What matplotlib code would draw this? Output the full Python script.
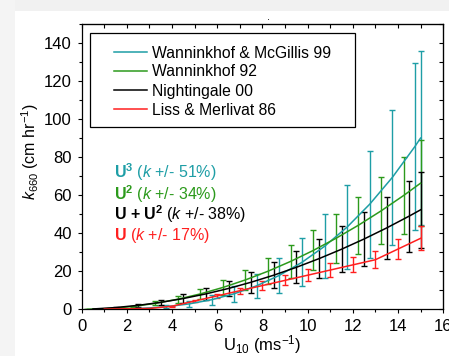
import numpy as np
import matplotlib
matplotlib.use('Agg')
import matplotlib.pyplot as plt
from matplotlib.patches import Rectangle

plt.rcParams['font.family'] = ['Liberation Sans', 'DejaVu Sans']
plt.rcParams['mathtext.fontset'] = 'custom'
plt.rcParams['mathtext.rm'] = 'Liberation Sans'
plt.rcParams['mathtext.it'] = 'Liberation Sans:italic'
plt.rcParams['mathtext.bf'] = 'Liberation Sans:bold'

# gas transfer velocity k660 (cm/hr) vs wind speed U10 (m/s)
wm99_u = [0.75, 1.75, 2.75, 3.75, 4.75, 5.75, 6.75, 7.75, 8.75, 9.75, 10.75, 11.75, 12.75, 13.75, 14.75, 15]
wm99_k = [0.01, 0.14, 0.56, 1.41, 2.86, 5.08, 8.21, 12.43, 17.89, 24.75, 33.17, 43.31, 55.34, 69.41, 85.68, 90.11]

w92_u = [0.25, 1.25, 2.25, 3.25, 4.25, 5.25, 6.25, 7.25, 8.25, 9.25, 10.25, 11.25, 12.25, 13.25, 14.25, 15]
w92_k = [0.02, 0.46, 1.49, 3.12, 5.33, 8.13, 11.52, 15.51, 20.08, 25.24, 30.99, 37.34, 44.27, 51.79, 59.90, 66.38]

n00_u = [0.5, 1.5, 2.5, 3.5, 4.5, 5.5, 6.5, 7.5, 8.5, 9.5, 10.5, 11.5, 12.5, 13.5, 14.5, 15]
n00_k = [0.21, 0.95, 2.12, 3.70, 5.71, 8.15, 11.00, 14.28, 17.98, 22.11, 26.66, 31.63, 37.02, 42.84, 49.08, 52.36]

lm86_u = [1, 2, 3, 4, 5, 6, 7, 8, 9, 10, 11, 12, 13, 14, 15]
lm86_k = [0.16, 0.32, 0.48, 1.67, 4.39, 7.10, 9.82, 12.53, 15.25, 17.96, 20.68, 23.40, 26.11, 31.73, 37.36]

series = [
    ('Wanninkhof & McGillis 99', wm99_u, wm99_k, 0.51, '#1e9ea6'),
    ('Wanninkhof 92', w92_u, w92_k, 0.34, '#2c9a1c'),
    ('Nightingale 00', n00_u, n00_k, 0.38, 'black'),
    ('Liss & Merlivat 86', lm86_u, lm86_k, 0.17, '#ff1f1f'),
]

W, H = 449, 356
fig = plt.figure(figsize=(W / 100, H / 100), dpi=100)
fig.add_artist(Rectangle((0, 1 - 11 / H), 1, 11 / H, transform=fig.transFigure,
                         facecolor='#f1f1f1', edgecolor='none', zorder=-5))
fig.add_artist(Rectangle((0, 0), 15 / W, 1, transform=fig.transFigure,
                         facecolor='#f4f4f4', edgecolor='none', zorder=-5))

ax = fig.add_axes([0.182, 0.131, 0.805, 0.801])

for name, u, k, frac, col in series:
    u = np.array(u)
    k = np.array(k)
    ax.errorbar(u, k, yerr=frac * k, color=col, lw=1.1, elinewidth=1.0,
                capsize=2.5, capthick=1.0)

ax.set_xlim(0, 16)
ax.set_ylim(0, 150)
ax.set_xticks(np.arange(0, 17, 2))
ax.set_xticks(np.arange(0, 17, 1), minor=True)
ax.set_yticks(np.arange(0, 141, 20))
ax.set_yticks(np.arange(0, 151, 10), minor=True)
ax.tick_params(which='major', direction='out', length=3, width=0.8, labelsize=12, pad=4)
ax.tick_params(which='minor', direction='out', length=2, width=0.8)
for sp in ax.spines.values():
    sp.set_linewidth(0.9)

# inward ticks on top and right
top = ax.secondary_xaxis('top')
top.set_xticks(np.arange(0, 17, 1))
top.tick_params(direction='in', length=3, width=0.8, labelsize=0)
top.set_xticklabels([])
right = ax.secondary_yaxis('right')
right.set_yticks(np.arange(0, 151, 10))
right.tick_params(direction='in', length=3, width=0.8, labelsize=0)
right.set_yticklabels([])

# legend box drawn by hand (figure pixel positions from the reference)
def fx(px):
    return px / W

def fy(py):
    return 1 - py / H

fig.add_artist(Rectangle((fx(90), fy(126.5)), fx(355) - fx(90), fy(33.5) - fy(126.5),
                         transform=fig.transFigure, facecolor='white', edgecolor='black',
                         lw=0.9, zorder=5))
row_y = [52, 70.5, 90, 109]
for (name, u, k, frac, col), yy in zip(series, row_y):
    fig.add_artist(plt.Line2D([fx(114), fx(147)], [fy(yy), fy(yy)], color=col, lw=1.1,
                              transform=fig.transFigure, zorder=6))
    fig.text(fx(152), fy(yy), name, fontsize=11.3, va='center_baseline', ha='left', zorder=6)

labels = [
    (r'$\mathbf{U^3}$ ($k$ +/- 51%)', 0.461, '#1e9ea6'),
    (r'$\mathbf{U^2}$ ($k$ +/- 34%)', 0.382, '#2c9a1c'),
    (r'$\mathbf{U}$ $\mathbf{+}$ $\mathbf{U^2}$ ($k$ +/- 38%)', 0.313, 'black'),
    (r'$\mathbf{U}$ ($k$ +/- 17%)', 0.243, '#ff1f1f'),
]
for txt, y, col in labels:
    ax.text(0.089, y, txt, color=col, fontsize=11.5, transform=ax.transAxes, va='baseline')

fig.text(fx(262), fy(350), r'U$_{10}$ (ms$^{-1}$)', fontsize=12, ha='center', va='baseline')
fig.text(fx(30), fy(152), r'$k_{660}$ (cm hr$^{-1}$)', fontsize=11.5, rotation=90,
         ha='center', va='center')
fig.text(fx(268), fy(20), '.', fontsize=8, ha='center', va='baseline')

fig.savefig('out.png', dpi=100)
